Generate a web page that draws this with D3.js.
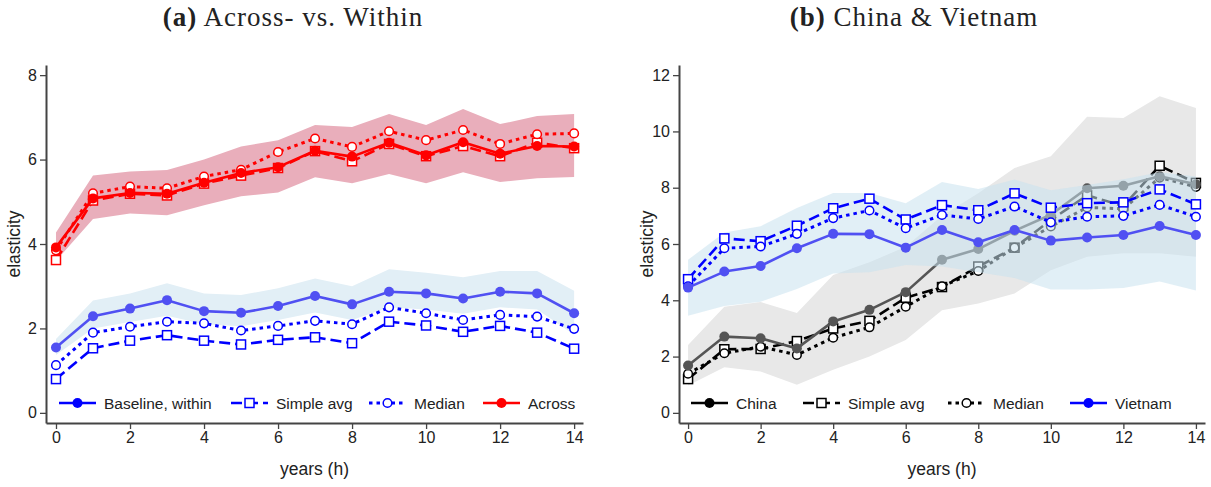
<!DOCTYPE html>
<html>
<head>
<meta charset="utf-8">
<script src="https://cdn.jsdelivr.net/npm/d3@7"></script>
<style>
  body { margin: 0; background: #fff; }
  text { font-family: "Liberation Sans", Arial, sans-serif; fill: #222; }
</style>
</head>
<body>
<div id="app"></div>
<script>
// horizon (years) and tick labels
const hours = [0, 1, 2, 3, 4, 5, 6, 7, 8, 9, 10, 11, 12, 13, 14];
const xTicks = [0, 2, 4, 6, 8, 10, 12, 14];
const yTicksA = [0, 2, 4, 6, 8];
const yTicksB = [0, 2, 4, 6, 8, 10, 12];

// panel (a): across
const acrossBase = [3.92, 5.08, 5.21, 5.19, 5.45, 5.68, 5.82, 6.21, 6.07, 6.4, 6.1, 6.41, 6.14, 6.32, 6.31];
const acrossAvg = [3.62, 5.03, 5.19, 5.15, 5.43, 5.62, 5.8, 6.2, 5.96, 6.37, 6.08, 6.32, 6.08, 6.4, 6.27];
const acrossMed = [3.85, 5.2, 5.36, 5.32, 5.6, 5.76, 6.18, 6.5, 6.3, 6.67, 6.46, 6.7, 6.37, 6.6, 6.62];
const acrossLo = [3.6, 4.59, 4.72, 4.68, 4.92, 5.13, 5.22, 5.58, 5.44, 5.66, 5.44, 5.7, 5.47, 5.56, 5.59];
const acrossHi = [4.27, 5.62, 5.72, 5.75, 6.0, 6.31, 6.46, 6.82, 6.77, 7.08, 6.82, 7.2, 6.84, 7.03, 7.08];

// panel (a): within
const withinBase = [1.55, 2.29, 2.47, 2.67, 2.41, 2.37, 2.53, 2.77, 2.57, 2.87, 2.83, 2.71, 2.87, 2.83, 2.36];
const withinAvg = [0.8, 1.53, 1.71, 1.84, 1.71, 1.62, 1.73, 1.79, 1.65, 2.16, 2.07, 1.92, 2.06, 1.9, 1.52];
const withinMed = [1.13, 1.9, 2.04, 2.16, 2.12, 1.95, 2.06, 2.18, 2.1, 2.5, 2.36, 2.2, 2.32, 2.28, 1.99];
const withinLo = [1.37, 2.0, 2.15, 2.3, 2.1, 2.05, 2.2, 2.38, 2.2, 2.5, 2.45, 2.35, 2.5, 2.45, 1.85];
const withinHi = [1.75, 2.66, 2.83, 3.07, 2.83, 2.79, 2.95, 3.18, 3.0, 3.4, 3.32, 3.21, 3.36, 3.36, 2.89];

// panel (b): China
const chinaBase = [1.68, 2.71, 2.65, 2.29, 3.25, 3.66, 4.29, 5.44, 5.82, 6.47, 7.04, 7.98, 8.07, 8.41, 8.12];
const chinaAvg = [1.2, 2.26, 2.27, 2.55, 3.0, 3.27, 4.09, 4.47, 5.2, 5.87, 6.85, 7.73, 7.35, 8.78, 8.17];
const chinaMed = [1.39, 2.12, 2.35, 2.06, 2.67, 3.04, 3.77, 4.5, 5.04, 5.87, 6.62, 7.3, 7.25, 8.36, 8.03];
const chinaLo = [0.97, 1.62, 1.47, 1.0, 1.53, 2.0, 2.59, 3.65, 3.89, 4.24, 5.07, 5.55, 5.67, 5.67, 5.55];
const chinaHi = [2.41, 3.77, 3.94, 3.55, 4.9, 5.35, 5.9, 7.0, 7.8, 8.7, 9.12, 10.52, 10.48, 11.25, 10.83];

// panel (b): Vietnam
const vietBase = [4.45, 5.02, 5.22, 5.85, 6.36, 6.35, 5.87, 6.5, 6.06, 6.5, 6.12, 6.23, 6.32, 6.64, 6.32];
const vietAvg = [4.75, 6.2, 6.1, 6.65, 7.27, 7.61, 6.87, 7.38, 7.2, 7.8, 7.29, 7.45, 7.48, 7.94, 7.41];
const vietMed = [4.5, 5.85, 5.91, 6.36, 6.92, 7.19, 6.56, 7.03, 6.89, 7.33, 6.77, 6.97, 7.0, 7.39, 6.97];
const vietLo = [3.45, 3.8, 3.95, 4.4, 4.95, 5.0, 5.25, 5.2, 5.0, 4.79, 4.38, 4.38, 4.44, 4.67, 4.35];
const vietHi = [5.44, 6.41, 6.63, 7.28, 7.81, 7.81, 7.45, 8.2, 7.95, 8.29, 7.91, 8.1, 8.3, 8.55, 8.4];

const svg = d3.select('#app')
    .append('svg')
    .attr('width', 1211)
    .attr('height', 487)

// line styles
const styles = {
    solid: { width: 2.6, dash: null, marker: 'dot' },
    avg: { width: 2.6, dash: '11,5', marker: 'square' },
    med: { width: 3, dash: '3.5,4', marker: 'ring' }
}

function drawMarker(g, kind, cx, cy, color) {
    if (kind === 'dot') {
        g.append('circle').attr('cx', cx).attr('cy', cy).attr('r', 5).attr('fill', color)
    } else if (kind === 'square') {
        g.append('rect').attr('x', cx - 4.5).attr('y', cy - 4.5).attr('width', 9).attr('height', 9)
            .attr('fill', '#fff').attr('stroke', color).attr('stroke-width', 1.5)
    } else {
        g.append('circle').attr('cx', cx).attr('cy', cy).attr('r', 4.3)
            .attr('fill', '#fff').attr('stroke', color).attr('stroke-width', 1.5)
    }
}

function drawPanel(p) {
    const g = svg.append('g')
    const x = d3.scaleLinear().domain(p.xDomain).range(p.xRange)
    const y = d3.scaleLinear().domain(p.yDomain).range(p.yRange)

    p.layers.forEach(l => {
        if (l.type === 'band') {
            const area = d3.area()
                .x((d, i) => x(hours[i]))
                .y0(d => y(d[0]))
                .y1(d => y(d[1]))
            g.append('path').datum(d3.zip(l.lo, l.hi))
                .attr('d', area)
                .attr('fill', l.color)
                .attr('fill-opacity', l.opacity || 1)
        } else {
            const st = styles[l.style]
            const line = d3.line().x((d, i) => x(hours[i])).y(d => y(d))
            g.append('path').datum(l.values)
                .attr('d', line)
                .attr('fill', 'none')
                .attr('stroke', l.color)
                .attr('stroke-width', st.width)
                .attr('stroke-dasharray', st.dash)
                .attr('stroke-linejoin', 'round')
            const mg = g.append('g')
            l.values.forEach((v, i) => drawMarker(mg, st.marker, x(hours[i]), y(v), l.color))
        }
    })

    // axes
    const yAxis = d3.axisLeft(y).tickValues(p.yTicks).tickSize(6).tickSizeOuter(0).tickPadding(3)
    g.append('g').attr('transform', `translate(${p.xRange[0]},0)`).call(yAxis)
    const xAxis = d3.axisBottom(x).tickValues(xTicks).tickSize(6).tickSizeOuter(0).tickPadding(3)
    g.append('g').attr('transform', `translate(0,${p.yRange[0]})`).call(xAxis)
    g.selectAll('.domain').attr('stroke', '#444').attr('stroke-width', 2)
    g.selectAll('.tick line').attr('stroke', '#444').attr('stroke-width', 1.3)
    g.selectAll('.tick text').style('font-size', '16px').attr('fill', '#222')

    // axis titles
    g.append('text')
        .attr('transform', `translate(${p.xRange[0] - 26},${(p.yRange[0] + p.yRange[1]) / 2}) rotate(-90)`)
        .attr('text-anchor', 'middle')
        .style('font-size', '17.5px')
        .text('elasticity')
    g.append('text')
        .attr('x', (p.xRange[0] + p.xRange[1]) / 2)
        .attr('y', 475)
        .attr('text-anchor', 'middle')
        .style('font-size', '17.5px')
        .text('years (h)')

    // panel title
    const t = g.append('text')
        .attr('x', p.titleX)
        .attr('y', 26)
        .attr('text-anchor', 'middle')
        .style('font-family', '"Liberation Serif", "Times New Roman", serif')
        .style('font-size', '27px')
        .style('letter-spacing', '1px')
    t.append('tspan').style('font-weight', 'bold').text(p.titleTag)
    t.append('tspan').text(' ' + p.title)

    // legend
    p.legend.forEach((it, i) => {
        const st = styles[it.style]
        const lx = p.legendX[i]
        const lg = g.append('g')
        lg.append('line')
            .attr('x1', lx).attr('x2', lx + 37)
            .attr('y1', 403).attr('y2', 403)
            .attr('stroke', it.color)
            .attr('stroke-width', st.width)
            .attr('stroke-dasharray', st.dash)
        drawMarker(lg, st.marker, lx + 18.5, 403, it.color)
        lg.append('text')
            .attr('x', lx + 45)
            .attr('y', 408.5)
            .style('font-size', '15.5px')
            .text(it.label)
    })
}

const blue = '#0000ff'
const blueSoft = '#5050f2'
const red = '#ff0000'

drawPanel({
    xDomain: [-0.27, 14.24], xRange: [46, 583],
    yDomain: [-0.24, 8.24], yRange: [423, 65],
    yTicks: yTicksA,
    titleX: 293, titleTag: '(a)', title: 'Across- vs. Within',
    layers: [
        { type: 'band', lo: acrossLo, hi: acrossHi, color: '#e9aebb' },
        { type: 'band', lo: withinLo, hi: withinHi, color: '#e2eff6' },
        { type: 'line', values: withinAvg, style: 'avg', color: blue },
        { type: 'line', values: withinMed, style: 'med', color: blue },
        { type: 'line', values: withinBase, style: 'solid', color: blueSoft },
        { type: 'line', values: acrossAvg, style: 'avg', color: red },
        { type: 'line', values: acrossMed, style: 'med', color: red },
        { type: 'line', values: acrossBase, style: 'solid', color: red }
    ],
    legend: [
        { label: 'Baseline, within', style: 'solid', color: blue },
        { label: 'Simple avg', style: 'avg', color: blue },
        { label: 'Median', style: 'med', color: blue },
        { label: 'Across', style: 'solid', color: red }
    ],
    legendX: [59, 231, 369, 483]
})

drawPanel({
    xDomain: [-0.25, 14.25], xRange: [679, 1205],
    yDomain: [-0.36, 12.36], yRange: [423, 65],
    yTicks: yTicksB,
    titleX: 914, titleTag: '(b)', title: 'China & Vietnam',
    layers: [
        { type: 'band', lo: chinaLo, hi: chinaHi, color: '#e8e8e8' },
        { type: 'line', values: chinaAvg, style: 'avg', color: '#000' },
        { type: 'line', values: chinaMed, style: 'med', color: '#000' },
        { type: 'line', values: chinaBase, style: 'solid', color: '#555' },
        { type: 'band', lo: vietLo, hi: vietHi, color: '#c9e2ee', opacity: 0.55 },
        { type: 'line', values: vietAvg, style: 'avg', color: blue },
        { type: 'line', values: vietMed, style: 'med', color: blue },
        { type: 'line', values: vietBase, style: 'solid', color: blueSoft }
    ],
    legend: [
        { label: 'China', style: 'solid', color: '#000' },
        { label: 'Simple avg', style: 'avg', color: '#000' },
        { label: 'Median', style: 'med', color: '#000' },
        { label: 'Vietnam', style: 'solid', color: blue }
    ],
    legendX: [691, 803, 948, 1070]
})
</script>
</body>
</html>
